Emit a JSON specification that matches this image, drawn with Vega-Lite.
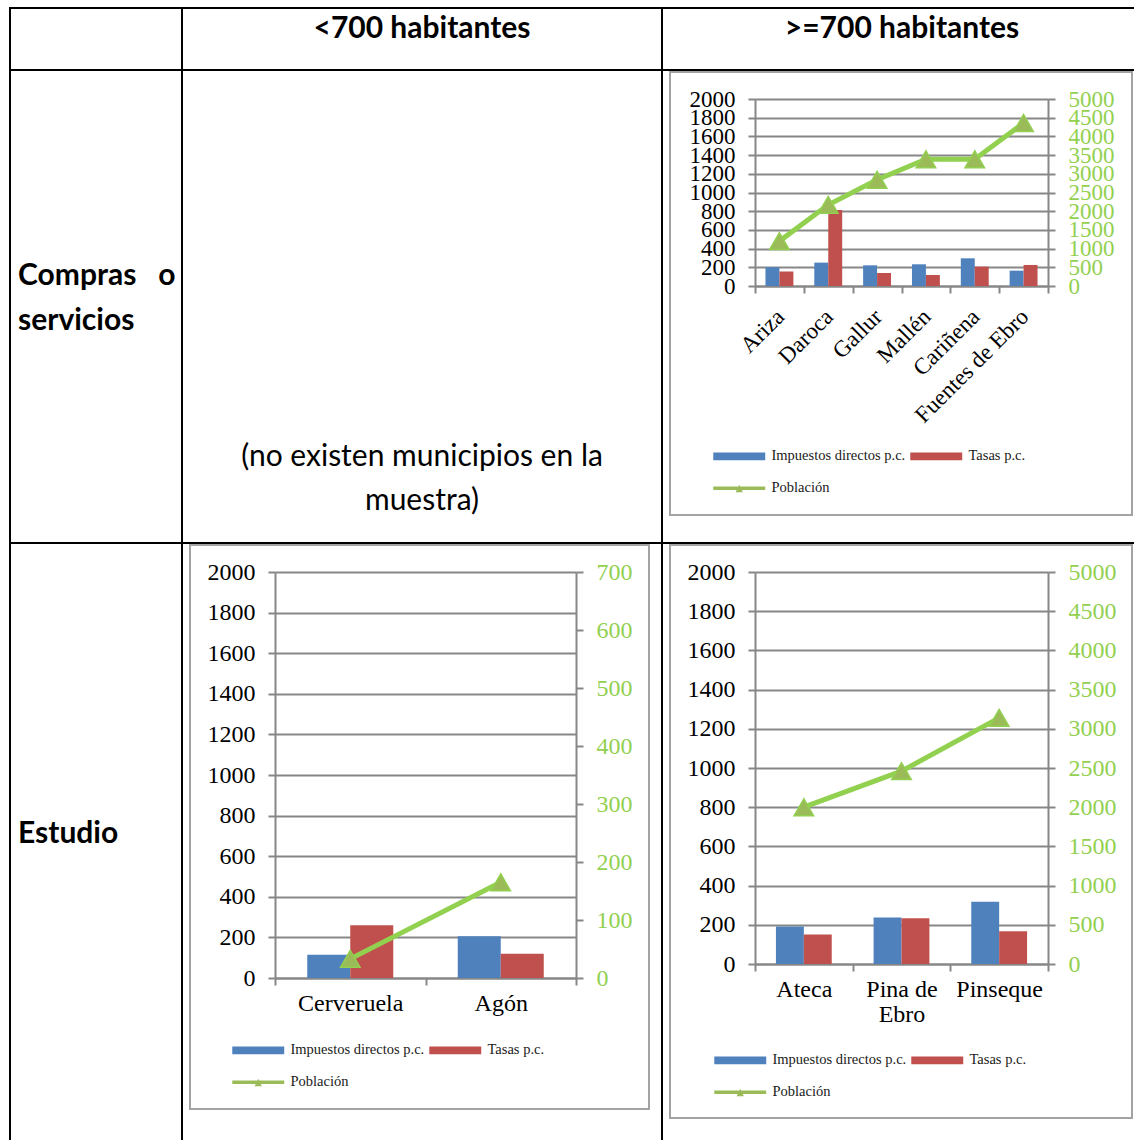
{
  "$schema": "https://vega.github.io/schema/vega-lite/v6.json",
  "background": "white",
  "padding": {"left": 9, "top": 7, "right": 0, "bottom": 0},
  "columns": 3,
  "spacing": 0,
  "bounds": "flush",
  "resolve": {"scale": {"color": "independent", "xOffset": "independent"}, "legend": {"color": "independent"}},
  "datasets": {
    "impuestosCompras": [
      {"municipio": "Ariza", "serie": "Impuestos directos p.c.", "valor": 200},
      {"municipio": "Ariza", "serie": "Tasas p.c.", "valor": 154},
      {"municipio": "Daroca", "serie": "Impuestos directos p.c.", "valor": 250},
      {"municipio": "Daroca", "serie": "Tasas p.c.", "valor": 814},
      {"municipio": "Gallur", "serie": "Impuestos directos p.c.", "valor": 221},
      {"municipio": "Gallur", "serie": "Tasas p.c.", "valor": 139},
      {"municipio": "Mallén", "serie": "Impuestos directos p.c.", "valor": 232},
      {"municipio": "Mallén", "serie": "Tasas p.c.", "valor": 118},
      {"municipio": "Cariñena", "serie": "Impuestos directos p.c.", "valor": 296},
      {"municipio": "Cariñena", "serie": "Tasas p.c.", "valor": 207},
      {"municipio": "Fuentes de Ebro", "serie": "Impuestos directos p.c.", "valor": 164},
      {"municipio": "Fuentes de Ebro", "serie": "Tasas p.c.", "valor": 225}
    ],
    "poblacionCompras": [
      {"municipio": "Ariza", "poblacion": 1200},
      {"municipio": "Daroca", "poblacion": 2170},
      {"municipio": "Gallur", "poblacion": 2840},
      {"municipio": "Mallén", "poblacion": 3390},
      {"municipio": "Cariñena", "poblacion": 3390},
      {"municipio": "Fuentes de Ebro", "poblacion": 4360}
    ],
    "impuestosEstudioMenor": [
      {"municipio": "Cerveruela", "serie": "Impuestos directos p.c.", "valor": 115},
      {"municipio": "Cerveruela", "serie": "Tasas p.c.", "valor": 260},
      {"municipio": "Agón", "serie": "Impuestos directos p.c.", "valor": 206},
      {"municipio": "Agón", "serie": "Tasas p.c.", "valor": 120}
    ],
    "poblacionEstudioMenor": [
      {"municipio": "Cerveruela", "poblacion": 33},
      {"municipio": "Agón", "poblacion": 165}
    ],
    "impuestosEstudioMayor": [
      {"municipio": "Ateca", "serie": "Impuestos directos p.c.", "valor": 191},
      {"municipio": "Ateca", "serie": "Tasas p.c.", "valor": 151},
      {"municipio": "Pina de Ebro", "serie": "Impuestos directos p.c.", "valor": 237},
      {"municipio": "Pina de Ebro", "serie": "Tasas p.c.", "valor": 233},
      {"municipio": "Pinseque", "serie": "Impuestos directos p.c.", "valor": 318},
      {"municipio": "Pinseque", "serie": "Tasas p.c.", "valor": 167}
    ],
    "poblacionEstudioMayor": [
      {"municipio": "Ateca", "poblacion": 2000},
      {"municipio": "Pina de Ebro", "poblacion": 2460},
      {"municipio": "Pinseque", "poblacion": 3140}
    ]
  },
  "concat": [
    {
      "width": 172, "height": 62,
      "data": {"values": [{"texto": ""}]},
      "layer": [
        {"mark": {"type": "rect", "fill": "transparent", "stroke": "#000000", "strokeWidth": 2}},
        {"mark": {"type": "text"}, "encoding": {"text": {"field": "texto"}}}
      ]
    },
    {
      "width": 480, "height": 62,
      "data": {"values": [{"texto": "<700 habitantes"}]},
      "layer": [
        {"mark": {"type": "rect", "fill": "transparent", "stroke": "#000000", "strokeWidth": 2}},
        {"mark": {"type": "text", "fontWeight": "bold", "dy": -10}, "encoding": {"text": {"field": "texto"}}}
      ]
    },
    {
      "width": 474, "height": 62,
      "data": {"values": [{"texto": ">=700 habitantes"}]},
      "layer": [
        {"mark": {"type": "rect", "fill": "transparent", "stroke": "#000000", "strokeWidth": 2}},
        {"mark": {"type": "text", "fontWeight": "bold", "dy": -10, "dx": 3}, "encoding": {"text": {"field": "texto"}}}
      ]
    },
    {
      "width": 172, "height": 473,
      "data": {"values": [{"texto": "Compras\u00a0\u00a0\u00a0o\nservicios"}]},
      "layer": [
        {"mark": {"type": "rect", "fill": "transparent", "stroke": "#000000", "strokeWidth": 2}},
        {"mark": {"type": "text", "fontWeight": "bold", "align": "left", "dx": -78, "dy": -31, "lineBreak": "\n", "lineHeight": 45}, "encoding": {"text": {"field": "texto"}}}
      ]
    },
    {
      "width": 480, "height": 473,
      "data": {"values": [{"texto": "(no existen municipios en la\nmuestra)"}]},
      "layer": [
        {"mark": {"type": "rect", "fill": "transparent", "stroke": "#000000", "strokeWidth": 2}},
        {"mark": {"type": "text", "dy": 150, "lineBreak": "\n", "lineHeight": 44}, "encoding": {"text": {"field": "texto"}}}
      ]
    },
    {
      "width": 474, "height": 473,
      "resolve": {"scale": {"x": "independent", "y": "independent"}},
      "layer": [
        {
          "data": {"values": [{}]},
          "mark": {"type": "rect", "fill": "transparent", "stroke": "#a3a3a3", "strokeWidth": 2},
          "encoding": {
            "x": {"datum": 0, "type": "quantitative", "scale": {"domain": [0, 1], "range": [8, 470]}, "axis": null},
            "x2": {"datum": 1},
            "y": {"datum": 0, "type": "quantitative", "scale": {"domain": [0, 1], "range": [2, 445]}, "axis": null},
            "y2": {"datum": 1}
          }
        },
        {
          "data": {"name": "impuestosCompras"},
          "mark": {"type": "bar"},
          "encoding": {
            "x": {
              "field": "municipio", "type": "nominal",
              "scale": {"domain": ["Ariza", "Daroca", "Gallur", "Mallén", "Cariñena", "Fuentes de Ebro"], "range": [93, 386], "paddingInner": 0, "paddingOuter": 0},
              "axis": {"title": null, "orient": "bottom", "offset": -257, "tickBand": "extent", "tickSize": 7, "labelAngle": -45, "labelAlign": "right", "labelBaseline": "top", "labelPadding": 12, "labelOffset": -7, "labelFontSize": 23, "grid": false}
            },
            "xOffset": {"field": "serie", "scale": {"domain": ["Impuestos directos p.c.", "Tasas p.c."], "paddingInner": 0, "paddingOuter": 0.75}},
            "y": {
              "field": "valor", "type": "quantitative",
              "scale": {"domain": [0, 2000], "range": [216, 29], "nice": false},
              "axis": {"title": null, "orient": "left", "offset": -93, "format": "d", "values": [0, 200, 400, 600, 800, 1000, 1200, 1400, 1600, 1800, 2000], "grid": true, "tickSize": 7, "labelPadding": 13, "labelFontSize": 23}
            },
            "color": {
              "field": "serie", "type": "nominal",
              "scale": {"domain": ["Impuestos directos p.c.", "Tasas p.c.", "Población"], "range": ["#4f81bd", "#c0504d", "#9bbb59"]},
              "legend": {
                "title": null, "orient": "none", "legendX": 70, "legendY": 379, "columns": 2, "direction": "horizontal",
                "encode": {"symbols": {"update": {
                  "shape": {"signal": "datum.value === 'Población' ? 'M-4.33,-0.3H4.33V0.3H-4.33Z M-0.6,0.65L0,-0.6L0.6,0.65Z' : 'M-4.33,-0.65H4.33V0.65H-4.33Z'"},
                  "fill": {"signal": "datum.value === 'Población' ? '#92d050' : datum.value === 'Tasas p.c.' ? '#c0504d' : '#4f81bd'"},
                  "opacity": {"value": 1}
                }}}
              }
            }
          }
        },
        {
          "data": {"name": "poblacionCompras"},
          "encoding": {
            "x": {"field": "municipio", "type": "nominal", "scale": {"domain": ["Ariza", "Daroca", "Gallur", "Mallén", "Cariñena", "Fuentes de Ebro"], "range": [93, 386], "paddingInner": 0, "paddingOuter": 0}, "axis": null},
            "y": {
              "field": "poblacion", "type": "quantitative",
              "scale": {"domain": [0, 5000], "range": [216, 29], "nice": false},
              "axis": {"title": null, "orient": "right", "offset": -88, "format": "d", "values": [0, 500, 1000, 1500, 2000, 2500, 3000, 3500, 4000, 4500, 5000], "grid": false, "tickSize": 7, "labelPadding": 13, "labelColor": "#92d050", "labelFontSize": 23}
            }
          },
          "layer": [
            {"mark": {"type": "line", "color": "#92d050", "strokeWidth": 5}},
            {"mark": {"type": "point", "shape": "triangle-up", "filled": true, "size": 380, "stroke": "#92d050", "strokeWidth": 1.5, "opacity": 1}, "encoding": {"color": {"datum": "Población", "legend": null}}}
          ]
        }
      ]
    },
    {
      "width": 172, "height": 600,
      "data": {"values": [{"texto": "Estudio"}]},
      "layer": [
        {"mark": {"type": "rect", "fill": "transparent", "stroke": "#000000", "strokeWidth": 2}},
        {"mark": {"type": "text", "fontWeight": "bold", "align": "left", "dx": -78, "dy": -9}, "encoding": {"text": {"field": "texto"}}}
      ]
    },
    {
      "width": 480, "height": 600,
      "resolve": {"scale": {"x": "independent", "y": "independent"}},
      "layer": [
        {
          "data": {"values": [{}]},
          "mark": {"type": "rect", "fill": "transparent", "stroke": "#a3a3a3", "strokeWidth": 2},
          "encoding": {
            "x": {"datum": 0, "type": "quantitative", "scale": {"domain": [0, 1], "range": [8, 467]}, "axis": null},
            "x2": {"datum": 1},
            "y": {"datum": 0, "type": "quantitative", "scale": {"domain": [0, 1], "range": [2, 566]}, "axis": null},
            "y2": {"datum": 1}
          }
        },
        {
          "data": {"name": "impuestosEstudioMenor"},
          "mark": {"type": "bar"},
          "encoding": {
            "x": {
              "field": "municipio", "type": "nominal",
              "scale": {"domain": ["Cerveruela", "Agón"], "range": [93, 394], "paddingInner": 0, "paddingOuter": 0},
              "axis": {"title": null, "orient": "bottom", "offset": -165, "tickBand": "extent", "tickSize": 7, "labelAngle": 0, "labelBaseline": "top", "labelPadding": 6, "labelFontSize": 24, "grid": false}
            },
            "xOffset": {"field": "serie", "scale": {"domain": ["Impuestos directos p.c.", "Tasas p.c."], "paddingInner": 0, "paddingOuter": 0.75}},
            "y": {
              "field": "valor", "type": "quantitative",
              "scale": {"domain": [0, 2000], "range": [435, 29], "nice": false},
              "axis": {"title": null, "orient": "left", "offset": -93, "format": "d", "values": [0, 200, 400, 600, 800, 1000, 1200, 1400, 1600, 1800, 2000], "grid": true, "tickSize": 7, "labelPadding": 13, "labelFontSize": 24}
            },
            "color": {
              "field": "serie", "type": "nominal",
              "scale": {"domain": ["Impuestos directos p.c.", "Tasas p.c.", "Población"], "range": ["#4f81bd", "#c0504d", "#9bbb59"]},
              "legend": {
                "title": null, "orient": "none", "legendX": 69, "legendY": 500, "columns": 2, "direction": "horizontal",
                "encode": {"symbols": {"update": {
                  "shape": {"signal": "datum.value === 'Población' ? 'M-4.33,-0.3H4.33V0.3H-4.33Z M-0.6,0.65L0,-0.6L0.6,0.65Z' : 'M-4.33,-0.65H4.33V0.65H-4.33Z'"},
                  "fill": {"signal": "datum.value === 'Población' ? '#92d050' : datum.value === 'Tasas p.c.' ? '#c0504d' : '#4f81bd'"},
                  "opacity": {"value": 1}
                }}}
              }
            }
          }
        },
        {
          "data": {"name": "poblacionEstudioMenor"},
          "encoding": {
            "x": {"field": "municipio", "type": "nominal", "scale": {"domain": ["Cerveruela", "Agón"], "range": [93, 394], "paddingInner": 0, "paddingOuter": 0}, "axis": null},
            "y": {
              "field": "poblacion", "type": "quantitative",
              "scale": {"domain": [0, 700], "range": [435, 29], "nice": false},
              "axis": {"title": null, "orient": "right", "offset": -86, "format": "d", "values": [0, 100, 200, 300, 400, 500, 600, 700], "grid": false, "tickSize": 7, "labelPadding": 13, "labelColor": "#92d050", "labelFontSize": 24}
            }
          },
          "layer": [
            {"mark": {"type": "line", "color": "#92d050", "strokeWidth": 5}},
            {"mark": {"type": "point", "shape": "triangle-up", "filled": true, "size": 380, "stroke": "#92d050", "strokeWidth": 1.5, "opacity": 1}, "encoding": {"color": {"datum": "Población", "legend": null}}}
          ]
        }
      ]
    },
    {
      "width": 474, "height": 600,
      "resolve": {"scale": {"x": "independent", "y": "independent"}},
      "layer": [
        {
          "data": {"values": [{}]},
          "mark": {"type": "rect", "fill": "transparent", "stroke": "#a3a3a3", "strokeWidth": 2},
          "encoding": {
            "x": {"datum": 0, "type": "quantitative", "scale": {"domain": [0, 1], "range": [8, 470]}, "axis": null},
            "x2": {"datum": 1},
            "y": {"datum": 0, "type": "quantitative", "scale": {"domain": [0, 1], "range": [2, 575]}, "axis": null},
            "y2": {"datum": 1}
          }
        },
        {
          "data": {"name": "impuestosEstudioMayor"},
          "mark": {"type": "bar"},
          "encoding": {
            "x": {
              "field": "municipio", "type": "nominal",
              "scale": {"domain": ["Ateca", "Pina de Ebro", "Pinseque"], "range": [93, 386], "paddingInner": 0, "paddingOuter": 0},
              "axis": {"title": null, "orient": "bottom", "offset": -179, "tickBand": "extent", "tickSize": 7, "labelAngle": 0, "labelBaseline": "top", "labelPadding": 6, "labelFontSize": 24, "labelLineHeight": 25, "grid": false, "labelExpr": "datum.label === 'Pina de Ebro' ? ['Pina de', 'Ebro'] : datum.label"}
            },
            "xOffset": {"field": "serie", "scale": {"domain": ["Impuestos directos p.c.", "Tasas p.c."], "paddingInner": 0, "paddingOuter": 0.75}},
            "y": {
              "field": "valor", "type": "quantitative",
              "scale": {"domain": [0, 2000], "range": [421, 29], "nice": false},
              "axis": {"title": null, "orient": "left", "offset": -93, "format": "d", "values": [0, 200, 400, 600, 800, 1000, 1200, 1400, 1600, 1800, 2000], "grid": true, "tickSize": 7, "labelPadding": 13, "labelFontSize": 24}
            },
            "color": {
              "field": "serie", "type": "nominal",
              "scale": {"domain": ["Impuestos directos p.c.", "Tasas p.c.", "Población"], "range": ["#4f81bd", "#c0504d", "#9bbb59"]},
              "legend": {
                "title": null, "orient": "none", "legendX": 71, "legendY": 510, "columns": 2, "direction": "horizontal",
                "encode": {"symbols": {"update": {
                  "shape": {"signal": "datum.value === 'Población' ? 'M-4.33,-0.3H4.33V0.3H-4.33Z M-0.6,0.65L0,-0.6L0.6,0.65Z' : 'M-4.33,-0.65H4.33V0.65H-4.33Z'"},
                  "fill": {"signal": "datum.value === 'Población' ? '#92d050' : datum.value === 'Tasas p.c.' ? '#c0504d' : '#4f81bd'"},
                  "opacity": {"value": 1}
                }}}
              }
            }
          }
        },
        {
          "data": {"name": "poblacionEstudioMayor"},
          "encoding": {
            "x": {"field": "municipio", "type": "nominal", "scale": {"domain": ["Ateca", "Pina de Ebro", "Pinseque"], "range": [93, 386], "paddingInner": 0, "paddingOuter": 0}, "axis": null},
            "y": {
              "field": "poblacion", "type": "quantitative",
              "scale": {"domain": [0, 5000], "range": [421, 29], "nice": false},
              "axis": {"title": null, "orient": "right", "offset": -88, "format": "d", "values": [0, 500, 1000, 1500, 2000, 2500, 3000, 3500, 4000, 4500, 5000], "grid": false, "tickSize": 7, "labelPadding": 13, "labelColor": "#92d050", "labelFontSize": 24}
            }
          },
          "layer": [
            {"mark": {"type": "line", "color": "#92d050", "strokeWidth": 5}},
            {"mark": {"type": "point", "shape": "triangle-up", "filled": true, "size": 380, "stroke": "#92d050", "strokeWidth": 1.5, "opacity": 1}, "encoding": {"color": {"datum": "Población", "legend": null}}}
          ]
        }
      ]
    }
  ],
  "config": {
    "view": {"stroke": "#000000", "strokeWidth": 2},
    "concat": {"spacing": 0},
    "text": {"font": "Lato", "fontSize": 30, "color": "#000000", "baseline": "middle"},
    "axis": {
      "labelFont": "Liberation Serif", "labelColor": "#000000", "labelFontSize": 23,
      "domainColor": "#878787", "domainWidth": 2,
      "tickColor": "#878787", "tickWidth": 2,
      "gridColor": "#878787", "gridWidth": 2,
      "labelOverlap": false, "labelFlush": false
    },
    "legend": {
      "labelFont": "Liberation Serif", "labelFontSize": 14.5, "labelColor": "#1a1a1a",
      "symbolSize": 144, "labelOffset": 25, "columnPadding": 4, "rowPadding": 17,
      "padding": 0, "labelLimit": 400, "symbolStrokeWidth": 0
    }
  }
}
